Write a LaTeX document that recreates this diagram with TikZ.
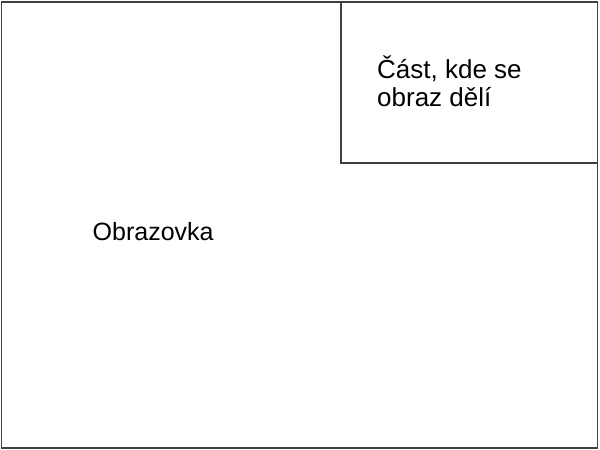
\documentclass[tikz,border=0pt]{standalone}
\usepackage{fontspec}
\setmainfont{Liberation Sans}
\begin{document}
\begin{tikzpicture}[x=1pt,y=-1pt,
  frame/.style={draw=black!75,line width=1.3pt},
  lbl/.style={font=\fontsize{26}{28}\selectfont,anchor=base west,inner sep=0pt},
  lblb/.style={font=\fontsize{25}{28}\selectfont,anchor=base west,inner sep=0pt}]
\useasboundingbox (0,0) rectangle (600,450);
\fill[white] (0,0) rectangle (600,450);
\coordinate (o1) at (1.5,2);
\coordinate (o2) at (597.5,448);
\draw[frame] (o1) rectangle (o2);
\coordinate (i1) at (341,2);
\coordinate (i2) at (597.5,163);
\draw[frame] (i1) rectangle (i2);
\node[lbl] (cast1) at (377,78) {Část, kde se};
\node[lbl] (cast2) at (377,106) {obraz dělí};
\node[lblb] (obr) at (92.5,240.5) {Obrazovka};
\end{tikzpicture}
\end{document}
